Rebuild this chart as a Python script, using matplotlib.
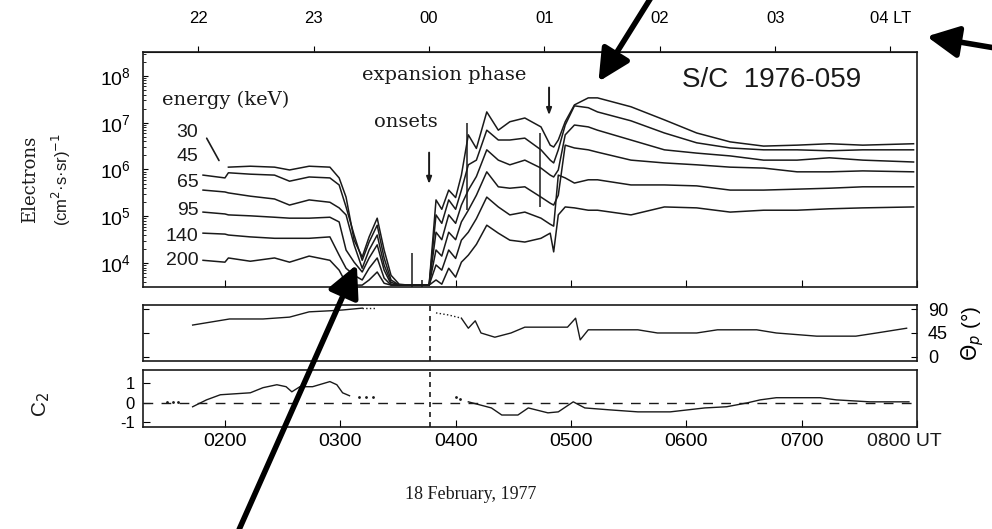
import numpy as np
import matplotlib.pyplot as plt
from matplotlib.patches import FancyArrowPatch
from matplotlib.ticker import LogLocator, NullFormatter
from matplotlib.transforms import blended_transform_factory

SANS = ['Liberation Sans', 'DejaVu Sans']
SERIF = ['DejaVu Serif']
plt.rcParams['font.family'] = SANS

# electron flux, log10 (cm2 s sr)^-1, one list per energy channel
t_flux = [1.81, 2.00, 2.03, 2.22, 2.43, 2.56, 2.73, 2.91, 2.99, 3.05, 3.12, 3.19,
          3.25, 3.32, 3.38, 3.44, 3.51, 3.59, 3.68, 3.77, 3.83, 3.88, 3.94, 4.00,
          4.05, 4.11, 4.18, 4.27, 4.37, 4.47, 4.60, 4.74, 4.82, 4.85, 4.89, 4.95,
          5.03, 5.15, 5.23, 5.52, 5.81, 6.09, 6.38, 6.67, 6.96, 7.24, 7.53, 7.97]
e30 = [np.nan, np.nan, 6.05, 6.07, 6.05, 5.99, 6.07, 6.05, 5.82, 5.41, 4.49, 4.13,
       4.56, 4.96, 4.28, 3.74, 3.55, 3.53, 3.53, 3.53, 5.35, 5.15, 5.56, 5.40,
       5.88, 6.74, 6.45, 7.23, 6.84, 7.02, 7.10, 6.91, 6.52, 6.48, 6.63, 7.02,
       7.38, 7.53, 7.53, 7.34, 7.06, 6.78, 6.59, 6.50, 6.52, 6.55, 6.52, 6.55]
e45 = [5.88, 5.82, 5.93, 5.90, 5.88, 5.75, 5.84, 5.82, 5.67, 5.20, 4.60, 4.06,
       4.45, 4.81, 4.11, 3.64, 3.53, 3.53, 3.53, 3.53, 5.03, 4.85, 5.35, 5.15,
       5.56, 6.10, 6.20, 6.84, 6.63, 6.63, 6.67, 6.42, 6.20, 6.14, 6.42, 6.95,
       7.36, 7.32, 7.23, 7.04, 6.78, 6.57, 6.46, 6.42, 6.42, 6.40, 6.42, 6.42]
e65 = [5.56, 5.52, 5.50, 5.43, 5.37, 5.24, 5.35, 5.30, 5.18, 5.03, 4.39, 3.89,
       4.28, 4.60, 3.96, 3.59, 3.53, 3.53, 3.53, 3.53, 4.66, 4.50, 5.03, 4.85,
       5.24, 5.56, 5.85, 6.42, 6.20, 6.10, 6.20, 6.03, 5.88, 5.84, 5.99, 6.74,
       6.95, 6.91, 6.84, 6.63, 6.42, 6.35, 6.29, 6.20, 6.20, 6.25, 6.20, 6.16]
e95 = [5.09, 5.05, 5.03, 5.01, 4.98, 4.96, 4.96, 4.98, 4.88, 4.28, 4.02, 3.81,
       4.11, 4.39, 3.85, 3.55, 3.53, 3.53, 3.53, 3.53, 4.28, 4.15, 4.66, 4.50,
       4.88, 5.13, 5.45, 5.95, 5.63, 5.60, 5.63, 5.41, 5.28, 5.24, 5.45, 6.52,
       6.46, 6.42, 6.37, 6.20, 6.14, 6.10, 6.05, 6.03, 5.95, 5.95, 5.97, 5.95]
e140 = [4.64, 4.62, 4.60, 4.56, 4.53, 4.53, 4.53, 4.56, 4.17, 3.89, 3.74, 3.64,
        3.89, 4.11, 3.68, 3.53, 3.53, 3.53, 3.53, 3.53, 3.96, 3.85, 4.28, 4.10,
        4.49, 4.66, 4.95, 5.41, 5.20, 5.03, 5.09, 4.96, 4.83, 4.79, 5.88, 5.82,
        5.71, 5.78, 5.78, 5.67, 5.67, 5.65, 5.56, 5.56, 5.58, 5.60, 5.63, 5.63]
e200 = [4.06, 4.02, 4.11, 4.04, 4.11, 4.02, 4.15, 4.06, 3.85, 3.57, 3.53, 3.53,
        3.64, 3.81, 3.57, 3.53, 3.53, 3.53, 3.53, 3.53, 3.64, 3.55, 3.89, 3.70,
        4.02, 4.17, 4.40, 4.81, 4.64, 4.49, 4.45, 4.53, 4.64, 4.24, 5.03, 5.20,
        5.18, 5.13, 5.13, 5.03, 5.20, 5.18, 5.09, 5.13, 5.13, 5.16, 5.18, 5.20]
energies = ['30', '45', '65', '95', '140', '200']
label_logy = [6.80, 6.27, 5.73, 5.13, 4.56, 4.06]

# isolated spikes in the flux record
spike_t = [3.62, 3.71, 4.10, 4.73]
spike_lo = [3.50, 3.50, 5.13, 5.20]
spike_hi = [4.21, 3.64, 6.99, 6.78]

# expansion phase onset arrows (UT, log flux top, log flux bottom)
onset_t = [3.77, 4.81]
onset_top = [6.42, 7.81]
onset_bot = [5.63, 7.10]

# pitch angle panel
t_th1 = [1.72, 2.04, 2.33, 2.56, 2.73, 2.91, 3.02, 3.19]
th1 = [60, 71.5, 71.5, 75, 85, 87, 88.5, 92]
t_th1d = [3.19, 3.31]
th1d = [92, 92]
t_th2d = [3.83, 3.94, 4.05]
th2d = [83, 79, 73]
t_th2 = [4.05, 4.11, 4.17, 4.22, 4.34, 4.48, 4.60, 4.78, 4.97, 5.04, 5.08, 5.15,
         5.23, 5.58, 5.75, 6.09, 6.27, 6.61, 6.78, 7.13, 7.47, 7.65, 7.91]
th2 = [73, 54, 68, 45, 37, 45, 56, 56, 56, 73, 32, 51,
       51, 51, 45, 45, 51, 51, 45, 39, 39, 45, 54]

# C2 panel
t_c2a = [1.72, 1.84, 1.96, 2.22, 2.33, 2.45, 2.53, 2.58, 2.65, 2.76, 2.91, 2.97, 3.02, 3.08]
c2a = [-0.2, 0.15, 0.41, 0.51, 0.77, 0.92, 0.82, 0.56, 0.82, 0.82, 1.08, 0.92, 0.51, 0.36]
t_c2dots = [1.50, 1.55, 1.59, 3.16, 3.22, 3.28, 4.00, 4.04]
c2dots = [0.05, 0.05, 0.05, 0.31, 0.31, 0.31, 0.31, 0.2]
t_c2b = [4.11, 4.31, 4.40, 4.54, 4.63, 4.80, 4.89, 5.02, 5.12, 5.34, 5.58, 5.86,
         6.01, 6.16, 6.35, 6.53, 6.64, 6.78, 7.02, 7.16, 7.30, 7.59, 7.82, 7.93]
c2b = [0.05, -0.26, -0.62, -0.62, -0.26, -0.51, -0.46, 0.05, -0.26, -0.36, -0.46, -0.46,
       -0.36, -0.26, -0.2, 0.0, 0.15, 0.26, 0.26, 0.26, 0.15, 0.05, 0.05, 0.05]

ut_ticks = [2, 3, 4, 5, 6, 7, 8]
ut_labels = ['0200', '0300', '0400', '0500', '0600', '0700', '']
last_ut_label = '0800 UT'
lt_ticks = [-2, -1, 0, 1, 2, 3, 4]
lt_labels = ['22', '23', '00', '01', '02', '03', '04 LT']
lt_offset = 3.77
t_onset_line = 3.78
xlim = (1.29, 8.0)

ink = '#1a1a1a'
fig = plt.figure(figsize=(9.92, 5.29), dpi=100)
ax1 = fig.add_axes([0.1442, 0.4575, 0.7802, 0.4442])
ax2 = fig.add_axes([0.1442, 0.3176, 0.7802, 0.1059])
ax3 = fig.add_axes([0.1442, 0.1928, 0.7802, 0.1078])

# --- flux panel
for vals in [e30, e45, e65, e95, e140, e200]:
    ax1.plot(t_flux, 10 ** np.array(vals), color=ink, lw=1.1)
ax1.vlines(spike_t, 10 ** np.array(spike_lo), 10 ** np.array(spike_hi), color=ink, lw=1.1)
ax1.set_yscale('log')
ax1.set_xlim(*xlim)
ax1.set_ylim(10 ** 3.49, 10 ** 8.51)
ax1.yaxis.set_major_locator(LogLocator(base=10, numticks=10))
ax1.yaxis.set_minor_locator(LogLocator(base=10, subs=np.arange(2, 10), numticks=10))
ax1.yaxis.set_minor_formatter(NullFormatter())
ax1.set_xticks(ut_ticks)
ax1.tick_params(axis='x', labelbottom=False, direction='in', length=5)
ax1.tick_params(axis='y', which='both', direction='in', labelsize=14, pad=9)
ax1.tick_params(axis='y', which='minor', length=2)

top = ax1.secondary_xaxis('top', functions=(lambda t: t - lt_offset, lambda l: l + lt_offset))
top.set_xticks(lt_ticks)
top.set_xticklabels(lt_labels)
top.tick_params(direction='out', length=4, labelsize=12, pad=15)

for lab, ly in zip(energies, label_logy):
    ax1.text(1.77, 10 ** ly, lab, ha='right', va='center', fontsize=14, color=ink)
ax1.annotate('', xy=(1.96, 10 ** 6.14), xytext=(1.83, 10 ** 6.72),
             arrowprops=dict(arrowstyle='-', color=ink, lw=1.2))
ax1.text(2.01, 10 ** 7.49, 'energy (keV)', ha='center', va='center', fontsize=14,
         family=SERIF, color=ink)
ax1.text(3.90, 10 ** 8.02, 'expansion phase', ha='center', va='center', fontsize=14,
         family=SERIF, color=ink)
ax1.text(3.57, 10 ** 7.02, 'onsets', ha='center', va='center', fontsize=14,
         family=SERIF, color=ink)
ax1.text(6.74, 10 ** 7.91, 'S/C  1976-059', ha='center', va='center', fontsize=20,
         color=ink)
for t, y0, y1 in zip(onset_t, onset_top, onset_bot):
    ax1.annotate('', xy=(t, 10 ** y1), xytext=(t, 10 ** y0),
                 arrowprops=dict(arrowstyle='-|>,head_length=0.4,head_width=0.15',
                                 color=ink, lw=1.4))

# --- pitch angle panel
ax2.plot(t_th1, th1, color=ink, lw=1.0)
ax2.plot(t_th1d, th1d, color=ink, lw=1.0, ls=':')
ax2.plot(t_th2d, th2d, color=ink, lw=1.0, ls=':')
ax2.plot(t_th2, th2, color=ink, lw=1.0)
ax2.axvline(t_onset_line, color=ink, lw=1.2, ls=(0, (3, 3)))
ax2.set_xlim(*xlim)
ax2.set_ylim(-8, 98)
ax2.set_xticks(ut_ticks)
ax2.set_yticks([0, 45, 90])
ax2.tick_params(axis='x', labelbottom=False, direction='in', length=0)
ax2.tick_params(axis='y', direction='in', labelleft=False, right=True, labelright=True,
                labelsize=13, pad=8, length=4)
ax2.yaxis.set_label_position('right')
ax2.set_ylabel(r'$\Theta_p$ (°)', fontsize=15, rotation=90, labelpad=8)

# --- C2 panel
ax3.plot(t_c2a, c2a, color=ink, lw=1.0)
ax3.plot(t_c2b, c2b, color=ink, lw=1.0)
ax3.plot(t_c2dots, c2dots, ls='none', marker='.', ms=2, color=ink)
ax3.axhline(0, color=ink, lw=1.0, ls=(0, (7, 6)))
ax3.axvline(t_onset_line, color=ink, lw=1.2, ls=(0, (3, 3)))
ax3.set_xlim(*xlim)
ax3.set_ylim(-1.23, 1.67)
ax3.set_yticks([-1, 0, 1])
ax3.set_yticklabels(['-1', '0', '1'])
ax3.set_xticks(ut_ticks)
ax3.set_xticklabels(ut_labels)
ax3.tick_params(axis='both', direction='in', labelsize=14, length=5)
ax3.tick_params(axis='x', pad=4)
ax3.tick_params(axis='y', pad=6, labelsize=12)
# last UT label sits a little left of its tick, as in the original
ax3.text(7.89, -0.25, last_ut_label, transform=blended_transform_factory(ax3.transData, ax3.transAxes),
         ha='center', va='center', fontsize=14, color=ink)

for ax in (ax1, ax2, ax3):
    for s in ax.spines.values():
        s.set_linewidth(1.2)
        s.set_color(ink)

fig.text(0.030, 0.66, 'Electrons', rotation=90, ha='center', va='center', fontsize=13,
         family=SERIF, color=ink)
fig.text(0.062, 0.66, r'(cm$^2$·s·sr)$^{-1}$', rotation=90, ha='center', va='center',
         fontsize=12, color=ink)
fig.text(0.042, 0.235, r'C$_2$', rotation=90, ha='center', va='center', fontsize=15, color=ink)
fig.text(0.474, 0.066, '18 February, 1977', ha='center', va='center', fontsize=13,
         family=['Liberation Serif', 'DejaVu Serif'], color=ink)

# overlaid pointer arrows
W, H = 992, 529
def big_arrow(x0, y0, x1, y1):
    fig.add_artist(FancyArrowPatch((x0 / W, 1 - y0 / H), (x1 / W, 1 - y1 / H),
                                   transform=fig.transFigure,
                                   arrowstyle='-|>,head_length=1.6,head_width=0.8',
                                   color='black', lw=4, mutation_scale=12))

big_arrow(652, -4, 597, 84)
big_arrow(238, 532, 358, 262)
big_arrow(995, 48, 924, 36)

fig.savefig('out.png', dpi=100)
